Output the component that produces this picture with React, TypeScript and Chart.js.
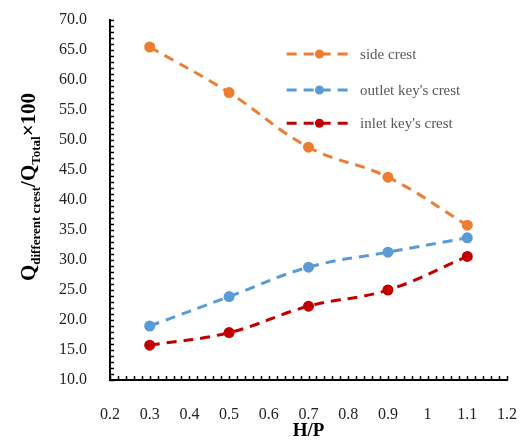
import React, { useEffect, useRef } from "react";
import { Chart, registerables } from "chart.js";

Chart.register(...registerables);

const hpValues = [0.3, 0.5, 0.7, 0.9, 1.1];
const sideCrest = [65.5, 57.9, 48.8, 43.8, 35.8];
const outletKeyCrest = [19.0, 23.9, 28.8, 31.3, 33.7];
const inletKeyCrest = [15.8, 17.9, 22.3, 25.0, 30.6];
const seriesNames = ["side crest", "outlet key's crest", "inlet key's crest"];
const seriesColors = ["#ED7D31", "#5B9BD5", "#C00000"];

const FONT = '"Liberation Serif", "Times New Roman", serif';

const minorTicksPlugin = {
  id: "minorTicks",
  afterDraw(chart: any) {
    const { ctx, chartArea, scales } = chart;
    const xs = scales.x;
    const ys = scales.y;
    ctx.save();
    ctx.strokeStyle = "#000";
    ctx.lineWidth = 1.5;
    ctx.beginPath();
    for (let i = 0; i <= 50; i++) {
      const v = 0.2 + i * 0.02;
      const px = Math.round(xs.getPixelForValue(v)) + 0.5;
      ctx.moveTo(px, chartArea.bottom);
      ctx.lineTo(px, chartArea.bottom - 4);
    }
    for (let i = 0; i <= 60; i++) {
      const v = 10 + i;
      const py = Math.round(ys.getPixelForValue(v)) + 0.5;
      ctx.moveTo(chartArea.left, py);
      ctx.lineTo(chartArea.left + 4, py);
    }
    ctx.stroke();
    ctx.restore();
  },
};

const yTitlePlugin = {
  id: "yTitle",
  afterDraw(chart: any) {
    const { ctx } = chart;
    const parts = [
      { t: "Q", size: 21, dy: 0 },
      { t: "different crest", size: 13, dy: 5 },
      { t: "/Q", size: 21, dy: 0 },
      { t: "Total", size: 13, dy: 5 },
      { t: "×100", size: 21, dy: 0 },
    ];
    ctx.save();
    let total = 0;
    for (const p of parts) {
      ctx.font = `bold ${p.size}px ${FONT}`;
      total += ctx.measureText(p.t).width;
    }
    ctx.translate(35, 187);
    ctx.rotate(-Math.PI / 2);
    ctx.fillStyle = "#000";
    ctx.textBaseline = "alphabetic";
    ctx.textAlign = "left";
    let x = -total / 2;
    for (const p of parts) {
      ctx.font = `bold ${p.size}px ${FONT}`;
      ctx.fillText(p.t, x, p.dy);
      x += ctx.measureText(p.t).width;
    }
    ctx.restore();
  },
};

const legendPlugin = {
  id: "customLegend",
  afterDraw(chart: any) {
    const { ctx } = chart;
    const xs = chart.scales.x;
    const ys = chart.scales.y;
    const lineStart = xs.getPixelForValue(0.645);
    const lineEnd = xs.getPixelForValue(0.805);
    const dotX = (lineStart + lineEnd) / 2 + 1;
    const textX = xs.getPixelForValue(0.83);
    const rowsY = [ys.getPixelForValue(64.33), ys.getPixelForValue(58.33), ys.getPixelForValue(52.8)];
    ctx.save();
    chart.data.datasets.forEach((ds: any, i: number) => {
      const y = rowsY[i];
      ctx.strokeStyle = ds.borderColor;
      ctx.lineWidth = 3;
      ctx.setLineDash([10, 7]);
      ctx.beginPath();
      ctx.moveTo(lineStart, y);
      ctx.lineTo(lineEnd, y);
      ctx.stroke();
      ctx.setLineDash([]);
      ctx.fillStyle = ds.backgroundColor;
      ctx.beginPath();
      ctx.arc(dotX, y, 4.5, 0, Math.PI * 2);
      ctx.fill();
      ctx.fillStyle = "#595959";
      ctx.font = `15px ${FONT}`;
      ctx.textBaseline = "middle";
      ctx.textAlign = "left";
      ctx.fillText(ds.label, textX, y + 1);
    });
    ctx.restore();
  },
};

export default function App() {
  const canvasRef = useRef<HTMLCanvasElement | null>(null);

  useEffect(() => {
    if (!canvasRef.current) return;
    const seriesData = [sideCrest, outletKeyCrest, inletKeyCrest];
    const chart = new Chart(canvasRef.current, {
      type: "line",
      data: {
        datasets: seriesData.map((vals, i) => ({
          label: seriesNames[i],
          data: hpValues.map((x, j) => ({ x, y: vals[j] })),
          borderColor: seriesColors[i],
          backgroundColor: seriesColors[i],
          borderWidth: 3,
          borderDash: [10, 7],
          pointRadius: 5.5,
          pointBorderWidth: 0,
          pointBackgroundColor: seriesColors[i],
          tension: 0.4,
          fill: false,
        })),
      },
      options: {
        responsive: false,
        animation: false,
        layout: { padding: { left: 0, right: 13, top: 20, bottom: 0 } },
        plugins: {
          legend: { display: false },
          tooltip: { enabled: false },
        },
        scales: {
          x: {
            type: "linear",
            min: 0.2,
            max: 1.2,
            grid: { display: false, drawTicks: false },
            border: { display: true, color: "#000", width: 2 },
            ticks: {
              stepSize: 0.1,
              padding: 25,
              color: "#222",
              font: { family: FONT, size: 16 },
              maxRotation: 0,
              autoSkip: false,
              callback: (v: any) => String(parseFloat(Number(v).toFixed(1))),
            },
            title: {
              display: true,
              text: "H/P",
              color: "#000",
              font: { family: FONT, size: 19, weight: "bold" },
              padding: { top: 0, bottom: 4 },
            },
            afterFit: (scale: any) => {
              scale.height = 66;
              scale.paddingLeft = 0;
              scale.paddingRight = 0;
            },
          },
          y: {
            type: "linear",
            min: 10,
            max: 70,
            grid: { display: false, drawTicks: false },
            border: { display: true, color: "#000", width: 2 },
            ticks: {
              stepSize: 5,
              padding: 23,
              color: "#222",
              font: { family: FONT, size: 16 },
              callback: (v: any) => Number(v).toFixed(1),
            },
            afterFit: (scale: any) => {
              scale.width = 110;
              scale.paddingTop = 0;
              scale.paddingBottom = 0;
            },
          },
        },
      },
      plugins: [minorTicksPlugin, yTitlePlugin, legendPlugin],
    });
    return () => chart.destroy();
  }, []);

  return (
    <div style={{ position: "fixed", left: 0, top: 0, width: 520, height: 446, background: "#fff" }}>
      <canvas ref={canvasRef} width={520} height={446} />
    </div>
  );
}
